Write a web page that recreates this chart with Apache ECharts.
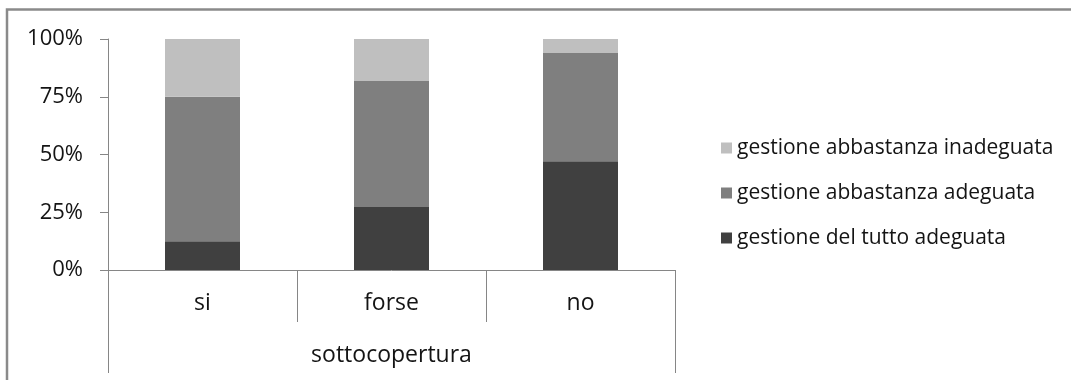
<!DOCTYPE html>
<html>
<head>
<meta charset="utf-8">
<script src="https://cdn.jsdelivr.net/npm/echarts@6/dist/echarts.min.js"></script>
<style>
  html, body { margin: 0; padding: 0; background: #fff; }
  #chart { width: 1071px; height: 380px; }
</style>
</head>
<body>
<div id="chart"></div>
<script>
// Answer categories and the group they belong to
const categories = ['si', 'forse', 'no'];
const groupLabel = ['sottocopertura'];

// Share of each judgement per category (percent, stacked to 100)
const tuttoAdeguata = [12.5, 27.3, 47.1];
const abbastanzaAdeguata = [62.5, 54.5, 47.1];
const abbastanzaInadeguata = [25.0, 18.2, 5.8];

const seriesNames = [
  'gestione del tutto adeguata',
  'gestione abbastanza adeguata',
  'gestione abbastanza inadeguata'
];
const yTicks = [0, 25, 50, 75, 100];

const FONT = '"Open Sans"';
const AXIS_COLOR = '#868686';
const TEXT_COLOR = '#141414';

const chart = echarts.init(document.getElementById('chart'), null, { renderer: 'canvas' });

function bar(name, data, color) {
  return {
    name: name,
    type: 'bar',
    stack: 'total',
    data: data,
    barWidth: 75,
    itemStyle: { color: color },
    emphasis: { disabled: true }
  };
}

chart.setOption({
  animation: false,
  backgroundColor: '#ffffff',
  textStyle: { fontFamily: FONT },
  graphic: [{
    type: 'rect',
    shape: { x: 7, y: 9.5, width: 1200, height: 500 },
    style: { fill: 'none', stroke: '#8a8a8a', lineWidth: 2.5 },
    silent: true
  }],
  grid: { left: 108, right: 396, top: 39, bottom: 110 },
  legend: {
    orient: 'vertical',
    left: 721,
    top: 136,
    padding: 0,
    itemWidth: 11,
    itemHeight: 11,
    itemGap: 21,
    icon: 'rect',
    data: [seriesNames[2], seriesNames[1], seriesNames[0]],
    textStyle: { fontFamily: FONT, fontSize: 21, color: TEXT_COLOR, lineHeight: 24 },
    selectedMode: false
  },
  yAxis: {
    type: 'value',
    min: yTicks[0],
    max: yTicks[yTicks.length - 1],
    interval: 25,
    axisLine: { show: true, lineStyle: { color: AXIS_COLOR, width: 1 } },
    axisTick: { show: true, length: 8, lineStyle: { color: AXIS_COLOR } },
    splitLine: { show: false },
    axisLabel: {
      formatter: '{value}%',
      margin: 25,
      fontFamily: FONT,
      fontSize: 22,
      color: TEXT_COLOR
    }
  },
  xAxis: [{
    type: 'category',
    data: categories,
    position: 'bottom',
    axisLine: { show: true, lineStyle: { color: AXIS_COLOR, width: 1 } },
    axisTick: { show: true, alignWithLabel: false, length: 52, lineStyle: { color: AXIS_COLOR } },
    axisLabel: { margin: 22, fontFamily: FONT, fontSize: 23, color: TEXT_COLOR }
  }, {
    type: 'category',
    data: groupLabel,
    position: 'bottom',
    axisLine: { show: false },
    axisTick: { show: true, alignWithLabel: false, length: 103, lineStyle: { color: AXIS_COLOR } },
    axisLabel: { margin: 74, fontFamily: FONT, fontSize: 23, color: TEXT_COLOR }
  }],
  series: [
    bar(seriesNames[0], tuttoAdeguata, '#404040'),
    bar(seriesNames[1], abbastanzaAdeguata, '#7f7f7f'),
    bar(seriesNames[2], abbastanzaInadeguata, '#bfbfbf')
  ]
});
</script>
</body>
</html>
